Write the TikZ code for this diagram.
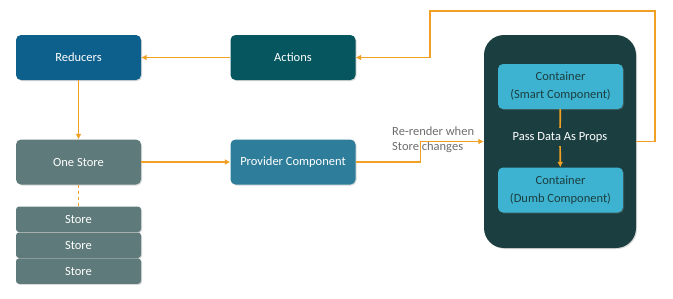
\documentclass[tikz,border=0pt]{standalone}
\usepackage{fontspec}
\setmainfont{Carlito}
\usetikzlibrary{arrows.meta,shadows}
\definecolor{flow}{HTML}{F0A024}
\definecolor{reducerblue}{HTML}{0D5F8C}
\definecolor{actionteal}{HTML}{05565E}
\definecolor{storegray}{HTML}{5F7A7A}
\definecolor{providerblue}{HTML}{2E7D9A}
\definecolor{viewdark}{HTML}{1B3F40}
\definecolor{containercyan}{HTML}{3EB3D1}
\definecolor{labelgray}{HTML}{6E6E6E}

\begin{document}
\begin{tikzpicture}[x=1pt,y=-1pt,>={Latex[length=5.5pt,width=6pt]},
  block/.style={rounded corners=5pt, minimum width=125pt, minimum height=45pt,
    text=white, font=\fontsize{12.5}{15}\selectfont,
    drop shadow={opacity=0.3,shadow xshift=1pt,shadow yshift=-1pt}},
  storebox/.style={block, fill=storegray, rounded corners=3pt, minimum height=25.4pt},
  flowline/.style={draw=flow, line width=1.7pt}]
  \useasboundingbox (0,0) rectangle (673,298);
  \node[block, fill=reducerblue] (reducers) at (78.5,57.5) {Reducers};
  \node[block, fill=actionteal] (actions) at (293,57.5) {Actions};
  \node[block, fill=storegray] (onestore) at (78.5,162) {One Store};
  \node[block, fill=providerblue] (provider) at (293,162) {Provider Component};
  \node[storebox] (store1) at (78.5,219.3) {Store};
  \node[storebox] (store2) at (78.5,245.2) {Store};
  \node[storebox] (store3) at (78.5,271.1) {Store};
  % view side
  \node[block, fill=viewdark, minimum width=152pt, minimum height=213pt,
    rounded corners=20pt] (view) at (560,141.5) {};
  \node[block, fill=containercyan, text=viewdark, align=center,
    font=\fontsize{12.5}{18}\selectfont] (smart) at (560.5,86.5) {Container\\(Smart Component)};
  \node[block, fill=containercyan, text=viewdark, align=center,
    font=\fontsize{12.5}{18}\selectfont] (dumb) at (560.5,190) {Container\\(Dumb Component)};
  \node[text=white, font=\fontsize{12.5}{15}\selectfont, inner sep=4pt] (props) at (560,137) {Pass Data As Props};
  \node[anchor=north west, text=labelgray, align=left, inner sep=0pt,
    font=\fontsize{12.5}{15}\selectfont] (rerenderlabel) at (392,127) {Re-render when\\Store changes};
  \coordinate (rerender) at (420.5,141.5);
  \coordinate (loopNE) at (655,11);
  \coordinate (loopNW) at (430,11);
  % connectors
  \draw[flowline,->] (actions) -- (reducers);
  \draw[flowline,->] (reducers) -- (onestore);
  \draw[flowline,->] (onestore) -- (provider);
  \draw[flowline, line width=1.2pt, dashed] (onestore) -- (store1);
  \draw[flowline] (smart) -- (props);
  \draw[flowline,->] (props) -- (dumb);
  \draw[flowline,->] (provider.east) -| (rerender) -- (view.west);
  \draw[flowline,->] (view.east) -| (loopNE) -- (loopNW) |- (actions.east);
\end{tikzpicture}
\end{document}
